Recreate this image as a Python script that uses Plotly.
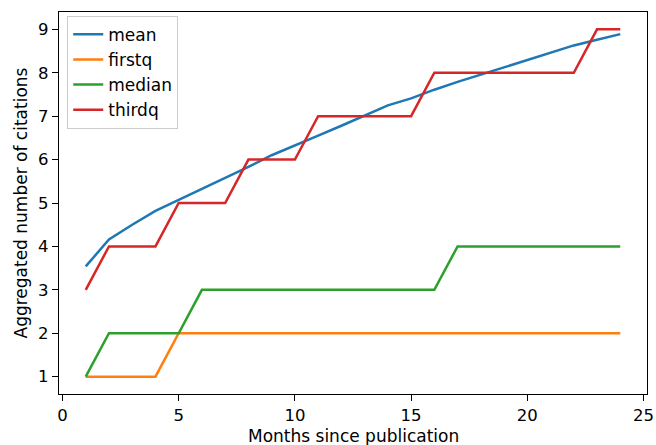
import plotly.graph_objects as go

months = list(range(1, 25))
mean = [3.54, 4.16, 4.50, 4.82, 5.07, 5.32, 5.57, 5.83, 6.10, 6.32, 6.55, 6.78,
        7.02, 7.25, 7.41, 7.61, 7.79, 7.96, 8.13, 8.30, 8.47, 8.63, 8.76, 8.89]
firstq = [1, 1, 1, 1] + [2] * 20
median = [1, 2, 2, 2, 2] + [3] * 11 + [4] * 8
thirdq = [3, 4, 4, 4, 5, 5, 5, 6, 6, 6, 7, 7, 7, 7, 7, 8, 8, 8, 8, 8, 8, 8, 9, 9]

series = [("mean", mean, "#1f77b4"), ("firstq", firstq, "#ff7f0e"),
          ("median", median, "#2ca02c"), ("thirdq", thirdq, "#d62728")]

fig = go.Figure()
for name, vals, col in series:
    fig.add_trace(go.Scatter(x=months, y=vals, mode="lines", name=name,
                             legendgroup=name,
                             line=dict(color=col, width=2.5)))

font = dict(family="DejaVu Sans", size=17, color="#000000")
tickfont = dict(family="DejaVu Sans", size=16.5, color="#000000")
axis_common = dict(showline=True, linecolor="black", linewidth=1.4, mirror=True,
                   ticks="outside", ticklen=6, tickwidth=1.4, tickcolor="black",
                   showgrid=False, zeroline=False, automargin=False,
                   tickfont=tickfont)
fig.update_layout(
    width=656, height=445,
    margin=dict(l=59, r=9, t=12, b=51),
    plot_bgcolor="white", paper_bgcolor="white",
    font=font,
    showlegend=True,
    legend=dict(x=0.014, y=0.99, xanchor="left", yanchor="top",
                bgcolor="rgba(255,255,255,0.8)", bordercolor="#cccccc",
                borderwidth=1, font=font, tracegroupgap=3,
                traceorder="normal", entrywidth=104, entrywidthmode="pixels"),
    xaxis=dict(range=[-0.15, 25.15], tickvals=[0, 5, 10, 15, 20, 25], **axis_common),
    yaxis=dict(range=[0.6, 9.4], tickvals=list(range(1, 10)), **axis_common),
    annotations=[
        dict(text="Months since publication", xref="paper", yref="paper",
             x=0.5, y=0, xanchor="center", yanchor="top", yshift=-30,
             showarrow=False, font=font),
        dict(text="Aggregated number of citations", xref="paper", yref="paper",
             x=0, y=0.5, xanchor="center", yanchor="middle", xshift=-38.5,
             textangle=-90, showarrow=False, font=font),
    ],
)
fig.write_html("out.html")
